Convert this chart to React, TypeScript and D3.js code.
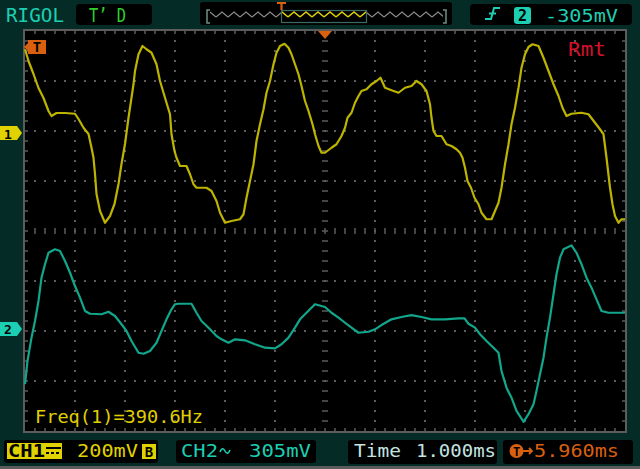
import React from 'react';
import * as d3 from 'd3';

// CH1 trace: time from left edge (ms), voltage (mV)
const ch1Time = [0, 0.07, 0.17, 0.27, 0.37, 0.47, 0.53, 0.63, 0.8, 1.0, 1.07, 1.17, 1.27, 1.33, 1.37, 1.4, 1.43, 1.5, 1.6, 1.7, 1.79, 1.87, 1.93, 2.0, 2.07, 2.13, 2.17, 2.2, 2.27, 2.35, 2.43, 2.53, 2.63, 2.7, 2.77, 2.83, 2.9, 2.93, 2.99, 3.03, 3.1, 3.23, 3.3, 3.37, 3.43, 3.63, 3.73, 3.83, 3.9, 4.0, 4.13, 4.3, 4.37, 4.43, 4.5, 4.57, 4.63, 4.7, 4.77, 4.83, 4.9, 4.97, 5.03, 5.1, 5.19, 5.27, 5.33, 5.4, 5.47, 5.53, 5.6, 5.67, 5.75, 5.8, 5.87, 5.93, 6.0, 6.13, 6.23, 6.33, 6.4, 6.45, 6.53, 6.6, 6.67, 6.73, 6.83, 6.93, 7.03, 7.11, 7.2, 7.33, 7.47, 7.6, 7.73, 7.83, 7.93, 8.03, 8.1, 8.13, 8.17, 8.23, 8.33, 8.43, 8.53, 8.63, 8.7, 8.75, 8.8, 8.85, 8.92, 8.99, 9.07, 9.13, 9.23, 9.33, 9.4, 9.47, 9.53, 9.6, 9.67, 9.73, 9.8, 9.87, 9.93, 10.0, 10.07, 10.15, 10.27, 10.37, 10.47, 10.57, 10.67, 10.75, 10.83, 10.93, 11.13, 11.27, 11.4, 11.5, 11.57, 11.63, 11.7, 11.75, 11.8, 11.87, 11.93, 12.0];
const ch1MilliVolts = [327, 280, 228, 172, 132, 80, 60, 72, 72, 69, 48, 13, -12, -67, -107, -172, -252, -320, -367, -340, -292, -212, -132, -52, 53, 133, 187, 240, 307, 340, 327, 313, 267, 200, 153, 113, 67, -13, -80, -107, -140, -140, -173, -213, -227, -227, -240, -280, -327, -367, -360, -353, -333, -267, -200, -133, -40, 27, 87, 153, 200, 267, 313, 340, 349, 333, 307, 267, 227, 180, 120, 80, 27, -13, -60, -87, -87, -67, -53, -20, 13, 53, 73, 113, 140, 160, 167, 187, 200, 213, 173, 163, 153, 173, 180, 200, 187, 160, 107, 53, 0, -20, -20, -53, -60, -73, -87, -107, -147, -200, -227, -267, -293, -327, -353, -353, -320, -287, -227, -133, -53, 27, 93, 173, 253, 307, 336, 347, 340, 293, 240, 187, 140, 93, 60, 69, 73, 67, 33, 7, -13, -107, -227, -293, -340, -367, -353, -353];

// CH2 trace
const ch2Time = [0, 0.05, 0.13, 0.2, 0.27, 0.33, 0.4, 0.47, 0.6, 0.7, 0.8, 0.9, 1.0, 1.1, 1.2, 1.3, 1.53, 1.67, 1.8, 1.93, 2.03, 2.13, 2.27, 2.37, 2.5, 2.63, 2.73, 2.83, 2.93, 3.0, 3.07, 3.33, 3.43, 3.53, 3.67, 3.83, 3.93, 4.07, 4.2, 4.4, 4.6, 4.8, 5.0, 5.13, 5.27, 5.4, 5.5, 5.63, 5.8, 5.93, 6.0, 6.13, 6.27, 6.4, 6.53, 6.67, 6.87, 7.0, 7.13, 7.33, 7.53, 7.73, 7.93, 8.13, 8.4, 8.67, 8.79, 8.87, 9.0, 9.1, 9.23, 9.37, 9.47, 9.53, 9.63, 9.73, 9.83, 9.97, 10.07, 10.17, 10.23, 10.3, 10.37, 10.43, 10.5, 10.57, 10.63, 10.7, 10.77, 10.93, 11.03, 11.13, 11.23, 11.33, 11.43, 11.53, 11.67, 12.0];
const ch2MilliVolts = [-343, -201, -59, 43, 165, 307, 389, 459, 480, 470, 409, 337, 256, 185, 104, 87, 84, 99, 73, 23, -18, -79, -151, -157, -140, -90, -18, 53, 114, 145, 148, 148, 93, 43, 2, -49, -69, -90, -69, -75, -99, -120, -124, -99, -59, 2, 53, 93, 145, 134, 128, 93, 63, 32, 2, -29, -23, -8, 18, 53, 67, 79, 67, 53, 53, 59, 59, 26, 2, -38, -79, -120, -151, -262, -364, -425, -506, -572, -526, -465, -384, -282, -181, -59, 63, 206, 328, 429, 480, 504, 459, 389, 307, 246, 175, 104, 93, 93];

const CH1_SCALE = 200; // mV/div
const CH1_POS = 2; // divs above centre
const CH2_SCALE = 305;
const CH2_POS = -1.94;

const PLOT = { left: 25, right: 625, top: 31, bottom: 431 };
const BG = '#042b25';
const GRID = '#5c5c5c';
const YELLOW = '#bdb400';
const TEAL = '#12a68c';
const TXT_TEAL = '#1ccfb2';
const ORANGE = '#d8600e';
const MONO = '"DejaVu Sans Mono", "Liberation Mono", monospace';

const App: React.FC = () => {
  const x = d3.scaleLinear().domain([0, 12]).range([PLOT.left, PLOT.right]);
  const y1 = d3.scaleLinear()
    .domain([(-4 - CH1_POS) * CH1_SCALE, (4 - CH1_POS) * CH1_SCALE])
    .range([PLOT.bottom, PLOT.top]);
  const y2 = d3.scaleLinear()
    .domain([(-4 - CH2_POS) * CH2_SCALE, (4 - CH2_POS) * CH2_SCALE])
    .range([PLOT.bottom, PLOT.top]);
  const div = d3.scaleLinear().domain([-4, 4]).range([PLOT.bottom, PLOT.top]);

  const line1 = d3.line<number>().x((_, i) => x(ch1Time[i])).y(d => y1(d));
  const line2 = d3.line<number>().x((_, i) => x(ch2Time[i])).y(d => y2(d));

  const cx = x(6);
  const cy = div(0);
  const minorX = d3.range(PLOT.left + 10, PLOT.right, 10);
  const minorY = d3.range(PLOT.top + 10, PLOT.bottom, 10);
  const vLines = d3.range(1, 12).filter(t => t !== 6).map(t => x(t));
  const hLines = d3.range(-3, 4).filter(d => d !== 0).map(d => div(d));

  const dots: JSX.Element[] = [];
  vLines.forEach(vx => minorY.forEach(vy => dots.push(<rect key={`v${vx}-${vy}`} x={vx - 1} y={vy - 1} width={2} height={2} fill={GRID} />)));
  hLines.forEach(hy => minorX.forEach(hx => dots.push(<rect key={`h${hx}-${hy}`} x={hx - 1} y={hy - 1} width={2} height={2} fill={GRID} />)));

  return (
    <svg width={640} height={469} style={{ position: 'absolute', left: 0, top: 0 }} fontFamily={MONO}>
      <defs>
        <pattern id="waveGray" patternUnits="userSpaceOnUse" width={12} height={24}>
          <path d="M0,17 L6,12 L12,17" fill="none" stroke="#8a8a8a" strokeWidth={1.3} />
        </pattern>
        <pattern id="waveYellow" patternUnits="userSpaceOnUse" width={12} height={24}>
          <path d="M0,17 L6,12 L12,17" fill="none" stroke="#e0d000" strokeWidth={1.5} />
        </pattern>
      </defs>
      <rect width={640} height={469} fill={BG} />

      {/* header */}
      <text x={6} y={22} fill={TXT_TEAL} fontSize={19} textLength={58} lengthAdjust="spacingAndGlyphs">RIGOL</text>
      <rect x={76} y={4} width={76} height={21} rx={4} fill="#000" />
      <text x={89} y={22} fill="#2ed12e" fontSize={19} textLength={37} lengthAdjust="spacingAndGlyphs">T’ D</text>

      <rect x={200} y={2} width={252} height={23} rx={3} fill="#000" />
      <path d="M210,10 L207,10 L207,23 L210,23" fill="none" stroke="#6f8f88" strokeWidth={1.5} />
      <path d="M443,10 L446,10 L446,23 L443,23" fill="none" stroke="#6f8f88" strokeWidth={1.5} />
      <rect x={210} y={8} width={71} height={14} fill="url(#waveGray)" />
      <rect x={367} y={8} width={76} height={14} fill="url(#waveGray)" />
      <rect x={282} y={10} width={84} height={12} fill="url(#waveYellow)" />
      <rect x={281.5} y={10.5} width={85} height={12} fill="none" stroke="#3d6a60" strokeWidth={1.2} />
      <path d="M277,3 L286,3 M281.5,3 L281.5,10" stroke={ORANGE} strokeWidth={2.2} />

      <rect x={470} y={4} width={162} height={21} rx={4} fill="#000" />
      <path d="M485,19 L491,19 L494,8 L500,8 M489,13.5 L496,13.5" fill="none" stroke={TXT_TEAL} strokeWidth={2} />
      <rect x={514} y={7} width={17} height={17} rx={3} fill={TXT_TEAL} />
      <text x={522.5} y={21} fill="#000" fontSize={15} fontWeight="bold" textAnchor="middle">2</text>
      <text x={545} y={22} fill={TXT_TEAL} fontSize={17} textLength={73} lengthAdjust="spacingAndGlyphs">-305mV</text>

      {/* plot area */}
      <rect x={PLOT.left} y={PLOT.top} width={PLOT.right - PLOT.left} height={PLOT.bottom - PLOT.top} fill="#000" />
      <rect x={PLOT.left - 1} y={PLOT.top - 1} width={PLOT.right - PLOT.left + 2} height={PLOT.bottom - PLOT.top + 2} fill="none" stroke={GRID} strokeWidth={2} />
      {minorX.map(px => (
        <g key={`bx${px}`}>
          <rect x={px - 0.75} y={PLOT.top} width={1.5} height={3} fill={GRID} />
          <rect x={px - 0.75} y={PLOT.bottom - 3} width={1.5} height={3} fill={GRID} />
          <rect x={px - 0.75} y={cy - 3} width={1.5} height={6} fill={GRID} />
        </g>
      ))}
      {minorY.map(py => (
        <g key={`by${py}`}>
          <rect x={PLOT.left} y={py - 0.75} width={3} height={1.5} fill={GRID} />
          <rect x={PLOT.right - 3} y={py - 0.75} width={3} height={1.5} fill={GRID} />
          <rect x={cx - 3} y={py - 0.75} width={6} height={1.5} fill={GRID} />
        </g>
      ))}
      {dots}

      {/* traces */}
      <path d={line1(ch1MilliVolts) ?? ''} fill="none" stroke={YELLOW} strokeWidth={2.2} strokeLinejoin="round" />
      <path d={line2(ch2MilliVolts) ?? ''} fill="none" stroke={TEAL} strokeWidth={2.2} strokeLinejoin="round" />

      {/* markers */}
      <path d={`M${cx - 7},${PLOT.top} L${cx + 7},${PLOT.top} L${cx},${PLOT.top + 8} Z`} fill={ORANGE} />
      <path d="M24,47 L28,43 L28,40 L46,40 L46,54 L28,54 L28,51 Z" fill={ORANGE} />
      <text x={37} y={52} fill="#000" fontSize={14} fontWeight="bold" textAnchor="middle">T</text>

      <path d={`M0,${div(CH1_POS) - 5} L17,${div(CH1_POS) - 5} L22,${div(CH1_POS) + 2} L17,${div(CH1_POS) + 9} L0,${div(CH1_POS) + 9} Z`} fill="#e0d200" />
      <text x={8} y={div(CH1_POS) + 8} fill="#000" fontSize={13} fontWeight="bold" textAnchor="middle">1</text>
      <path d={`M0,${div(CH2_POS) - 6} L17,${div(CH2_POS) - 6} L22,${div(CH2_POS) + 1} L17,${div(CH2_POS) + 8} L0,${div(CH2_POS) + 8} Z`} fill={TXT_TEAL} />
      <text x={8} y={div(CH2_POS) + 6} fill="#000" fontSize={13} fontWeight="bold" textAnchor="middle">2</text>

      <text x={568} y={56} fill="#d4102c" fontSize={19} textLength={38} lengthAdjust="spacingAndGlyphs">Rmt</text>
      <text x={35} y={423} fill="#e0d000" fontSize={18} textLength={168} lengthAdjust="spacingAndGlyphs">Freq(1)=390.6Hz</text>

      {/* bottom bar */}
      <rect x={4} y={440} width={154} height={23} rx={3} fill="#000" />
      <rect x={7} y={443} width={55} height={16} fill="#e0d200" />
      <text x={8} y={457} fill="#000" fontSize={17} fontWeight="bold" textLength={37} lengthAdjust="spacingAndGlyphs">CH1</text>
      <rect x={46} y={447} width={15} height={2} fill="#000" />
      <path d="M46,453 L61,453" stroke="#000" strokeWidth={2} strokeDasharray="3,2" />
      <text x={77} y={457} fill="#e0d200" fontSize={18} textLength={61} lengthAdjust="spacingAndGlyphs">200mV</text>
      <rect x={142} y={444} width={14} height={15} fill="#e0d200" />
      <text x={149} y={457} fill="#000" fontSize={14} fontWeight="bold" textAnchor="middle">B</text>

      <rect x={176} y={440} width={140} height={23} rx={3} fill="#000" />
      <text x={181} y={457} fill={TXT_TEAL} fontSize={18} textLength={37} lengthAdjust="spacingAndGlyphs">CH2</text>
      <path d="M220,452 Q222.5,446 225,451 T230,450" fill="none" stroke={TXT_TEAL} strokeWidth={1.6} />
      <text x={249} y={457} fill={TXT_TEAL} fontSize={18} textLength={62} lengthAdjust="spacingAndGlyphs">305mV</text>

      <rect x={348} y={440} width={149} height={24} rx={3} fill="#000" />
      <text x={354} y={457} fill="#c4e4e0" fontSize={18} textLength={47} lengthAdjust="spacingAndGlyphs">Time</text>
      <text x={416} y={457} fill="#c4e4e0" fontSize={18} textLength={80} lengthAdjust="spacingAndGlyphs">1.000ms</text>

      <rect x={503} y={440} width={130} height={24} rx={3} fill="#000" />
      <circle cx={516.5} cy={451} r={7} fill={ORANGE} />
      <text x={516.5} y={456} fill="#000" fontSize={12} fontWeight="bold" textAnchor="middle">T</text>
      <path d="M523,451 L532,451 M529,448 L532,451 L529,454" fill="none" stroke={ORANGE} strokeWidth={1.8} />
      <text x={534} y={457} fill={ORANGE} fontSize={18} textLength={85} lengthAdjust="spacingAndGlyphs">5.960ms</text>

      <rect x={0} y={466} width={640} height={3} fill="#5c5c5c" />
    </svg>
  );
};

export default App;
